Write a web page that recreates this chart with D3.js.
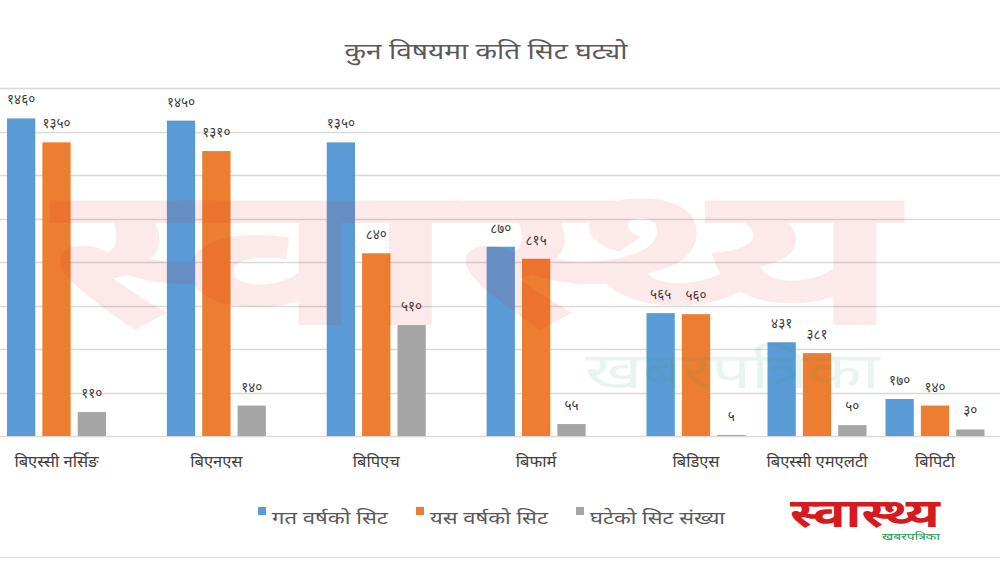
<!DOCTYPE html>
<html><head><meta charset="utf-8">
<script src="https://cdn.jsdelivr.net/npm/d3@7"></script>
<style>
html,body{margin:0;padding:0;background:#fff;}
svg{display:block;font-family:"Noto Sans Devanagari","Noto Sans","Lohit Devanagari","FreeSans",sans-serif;}
</style></head>
<body><svg id="c" width="1000" height="581"></svg>
<script>
const title = "कुन विषयमा कति सिट घट्यो";
const categories = ["बिएस्सी नर्सिङ", "बिएनएस", "बिपिएच", "बिफार्म", "बिडिएस", "बिएस्सी एमएलटी", "बिपिटी"];
const seriesNames = ["गत वर्षको सिट", "यस वर्षको सिट", "घटेको सिट संख्या"];
const lastYear = [1460, 1450, 1350, 870, 565, 431, 170];
const thisYear = [1350, 1310, 840, 815, 560, 381, 140];
const reduced = [110, 140, 510, 55, 5, 50, 30];
const yTicks = [0, 200, 400, 600, 800, 1000, 1200, 1400, 1600];
const colors = ["#5B9BD5", "#ED7D31", "#A5A5A5"];

const seriesVals = [lastYear, thisYear, reduced];
const devDigits = "०१२३४५६७८९";
const toDev = n => String(n).replace(/[0-9]/g, d => devDigits[+d]);

const svg = d3.select("#c");
const W = 1000, H = 581;

// scales
const y = d3.scaleLinear().domain([0, 1600]).range([436, 88]);
const x = d3.scaleLinear().domain([0, 4, 5, 6]).range([56.5, 696, 817, 935]);
const inner = d3.scaleBand().domain(d3.range(3)).range([-49.5, 49.5]).paddingInner(0.2);

// gridlines
svg.append("g").selectAll("line").data(yTicks).join("line")
  .attr("x1", 0).attr("x2", W)
  .attr("y1", d => Math.round(y(d)) + 0.5).attr("y2", d => Math.round(y(d)) + 0.5)
  .attr("stroke", "#d9d9d9").attr("stroke-width", 1.3);

// bars
const rows = [];
categories.forEach((c, i) => seriesVals.forEach((s, j) => rows.push({i, j, v: s[i]})));
svg.append("g").selectAll("rect").data(rows).join("rect")
  .attr("x", d => x(d.i) + inner(d.j))
  .attr("width", inner.bandwidth())
  .attr("y", d => y(d.v))
  .attr("height", d => y(0) - y(d.v))
  .attr("fill", d => colors[d.j]);

// data labels
svg.append("g").selectAll("text").data(rows).join("text")
  .attr("x", d => x(d.i) + inner(d.j) + inner.bandwidth() / 2)
  .attr("y", d => y(d.v) - 14)
  .attr("text-anchor", "middle")
  .attr("font-size", 13.5).attr("fill", "#3a3a3a")
  .text(d => toDev(d.v));

// category labels
svg.append("g").selectAll("text").data(categories).join("text")
  .attr("x", (d, i) => x(i)).attr("y", 467)
  .attr("text-anchor", "middle").attr("font-size", 16.5).attr("fill", "#404040")
  .text(d => d);

// title
svg.append("text").attr("x", 486).attr("y", 59).attr("text-anchor", "middle")
  .attr("font-size", 22).attr("fill", "#595959")
  .attr("textLength", 283).attr("lengthAdjust", "spacingAndGlyphs").text(title);

// legend
const legX = [258, 416, 576];
const legW = [116, 118, 135];
const lg = svg.append("g").selectAll("g").data(seriesNames).join("g")
  .attr("transform", (d, i) => `translate(${legX[i]},0)`);
lg.append("rect").attr("x", 0).attr("y", 507).attr("width", 8).attr("height", 8)
  .attr("fill", (d, i) => colors[i]);
lg.append("text").attr("x", 14).attr("y", 524).attr("font-size", 17).attr("fill", "#595959")
  .attr("textLength", (d, i) => legW[i]).attr("lengthAdjust", "spacingAndGlyphs")
  .text(d => d);

// bottom border
svg.append("line").attr("x1", 0).attr("x2", W).attr("y1", 557.5).attr("y2", 557.5)
  .attr("stroke", "#d9d9d9");

// watermark
svg.append("text").attr("x", 50).attr("y", 325).attr("font-size", 200).attr("font-weight", "bold")
  .attr("fill", "#e01818").attr("opacity", 0.09)
  .attr("textLength", 850).attr("lengthAdjust", "spacingAndGlyphs").text("स्वास्थ्य");
svg.append("text").attr("x", 585).attr("y", 388).attr("font-size", 50)
  .attr("fill", "#2aa060").attr("opacity", 0.1)
  .attr("textLength", 295).attr("lengthAdjust", "spacingAndGlyphs").text("खबरपत्रिका");

// logo
svg.append("text").attr("x", 790).attr("y", 527).attr("font-size", 40).attr("font-weight", "bold")
  .attr("fill", "#d71920").attr("textLength", 150).attr("lengthAdjust", "spacingAndGlyphs")
  .text("स्वास्थ्य");
svg.append("text").attr("x", 882).attr("y", 540).attr("font-size", 10)
  .attr("fill", "#1f9a55").attr("textLength", 58).attr("lengthAdjust", "spacingAndGlyphs")
  .text("खबरपत्रिका");
</script></body></html>
